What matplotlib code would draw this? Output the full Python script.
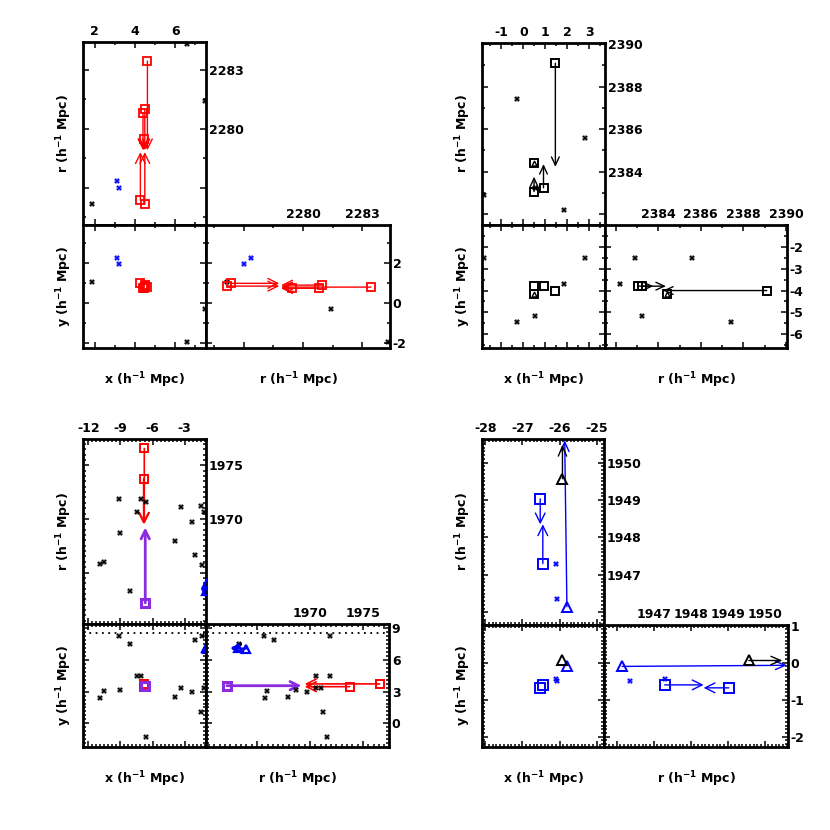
import matplotlib
matplotlib.use('Agg')
import matplotlib.pyplot as plt
from matplotlib.patches import FancyArrowPatch
from matplotlib.ticker import MultipleLocator
import numpy as np

plt.rcParams['font.family'] = ['DejaVu Sans']
plt.rcParams['font.weight'] = 'bold'
plt.rcParams['mathtext.default'] = 'bf'

RED = '#FF0000'
BLUE = '#0000FF'
PURPLE = '#8A2BE2'

# ---------------- Group 1 (top left) ----------------
g1_star_x = [6.57, 1.85, 7.50]
g1_star_r = [2284.30, 2276.15, 2281.40]
g1_star_y = [-1.99, 1.07, -0.29]
g1_bstar_x = [3.12, 3.22]
g1_bstar_r = [2277.35, 2277.00]
g1_bstar_y = [2.25, 1.95]
g1_sq_x = [4.62, 4.49, 4.40, 4.43, 4.27, 4.49]
g1_sq_r = [2283.43, 2280.97, 2280.80, 2279.45, 2276.35, 2276.15]
g1_sq_y = [0.80, 0.90, 0.74, 0.74, 0.99, 0.85]
g1_sq_rend = [2278.90, 2278.90, 2278.90, 2278.90, 2278.80, 2278.80]
g1_xticks = [2, 4, 6]
g1_rticks = [2277, 2280, 2283]
g1_rlabels = ['', '2280', '2283']
g1_yticks = [-2, 0, 2]

# ---------------- Group 2 (top right) ----------------
g2_star_x = [-0.30, 2.80, -1.78, 1.84, 0.53]
g2_star_r = [2387.40, 2385.60, 2382.90, 2382.20, 2383.24]
g2_star_y = [-5.45, -2.50, -2.50, -3.72, -5.15]
g2_sq_x = [1.46, 0.49, 0.92, 0.49]
g2_sq_r = [2389.10, 2384.42, 2383.25, 2383.07]
g2_sq_y = [-4.00, -4.17, -3.80, -3.80]
g2_sq_rend = [2384.23, np.nan, 2384.36, 2383.77]
g2_tri_x = [0.49]
g2_tri_r = [2384.42]
g2_tri_y = [-4.17]
g2_xticks = [-1, 0, 1, 2, 3]
g2_rticks = [2382, 2384, 2386, 2388, 2390]
g2_rlabels = ['', '2384', '2386', '2388', '2390']
g2_yticks = [-6, -5, -4, -3, -2]

# ---------------- Group 3 (bottom left) ----------------
g3_star_x = [-9.17, -7.05, -6.65, -7.45, -9.08, -10.88, -10.57, -8.08,
             -3.34, -2.31, -3.87, -2.00, -1.44, -1.23, -1.38]
g3_star_r = [1971.85, 1971.90, 1971.60, 1970.60, 1968.65, 1965.80, 1965.95, 1963.30,
             1971.07, 1969.70, 1967.96, 1966.60, 1971.20, 1970.60, 1965.70]
g3_star_y = [8.30, 4.45, -1.27, 4.51, 3.12, 2.43, 3.09, 7.48,
             3.32, 3.00, 2.52, 7.90, 1.10, 3.37, 8.30]
g3_red_x = [-6.77, -6.83]
g3_red_r = [1976.57, 1973.74]
g3_red_y = [3.73, 3.47]
g3_red_rend = [1969.50, 1969.50]
g3_pur_x = [-6.68]
g3_pur_r = [1962.17]
g3_pur_y = [3.56]
g3_pur_rend = [1969.20]
g3_tri_x = [-0.98, -0.95]
g3_tri_r = [1963.25, 1964.00]
g3_tri_y = [7.15, 7.08]
g3_tri_rend = [1962.50, 1962.50]
g3_dot_y = 8.55
g3_xticks = [-12, -9, -6, -3]
g3_rticks = [1965, 1970, 1975]
g3_rlabels = ['', '1970', '1975']
g3_yticks = [0, 3, 6, 9]

# ---------------- Group 4 (bottom right) ----------------
g4_bstar_x = [-26.09, -26.07]
g4_bstar_r = [1947.30, 1946.35]
g4_bstar_y = [-0.45, -0.49]
g4_sq_x = [-26.45, -26.52]
g4_sq_r = [1947.30, 1949.03]
g4_sq_y = [-0.60, -0.68]
g4_sq_rend = [1948.35, 1948.35]
g4_btri_x = [-25.80]
g4_btri_r = [1946.15]
g4_btri_y = [-0.10]
g4_btri_xend = [-25.86]
g4_btri_rend = [1950.60]
g4_btri_yend = [-0.07]
g4_ktri_x = [-25.92]
g4_ktri_r = [1949.57]
g4_ktri_y = [0.06]
g4_ktri_rend = [1950.48]
g4_xticks = [-28, -27, -26, -25]
g4_rticks = [1946, 1947, 1948, 1949, 1950]
g4_rlabels = ['', '1947', '1948', '1949', '1950']
g4_yticks = [-2, -1, 0, 1]

W = H = 830
fig = plt.figure(figsize=(8.3, 8.3), dpi=100)


def add_ax(l, t, r, b):
    return fig.add_axes([l / W, 1 - b / H, (r - l) / W, (b - t) / H])


def ftext(x, y, s, rot=0):
    fig.text(x / W, 1 - y / H, s, ha='center', va='center', fontsize=9,
             fontweight='bold', rotation=rot)


def setup(ax, xlim, ylim, xt, xtl, xmn, yt, ytl, ymn, ltop, lright):
    ax.set_xticks(xt, labels=xtl)
    ax.set_yticks(yt, labels=ytl)
    ax.xaxis.set_minor_locator(MultipleLocator(xmn))
    ax.yaxis.set_minor_locator(MultipleLocator(ymn))
    ax.tick_params(which='both', direction='in', top=True, bottom=True,
                   left=True, right=True, labelbottom=False, labelleft=False,
                   labeltop=ltop, labelright=lright, width=1.1, labelsize=9)
    ax.tick_params(which='major', length=4)
    ax.tick_params(which='minor', length=2)
    ax.tick_params(axis='x', pad=3)
    ax.tick_params(axis='y', pad=2)
    for s in ax.spines.values():
        s.set_linewidth(2)
    ax.set_xlim(xlim)
    ax.set_ylim(ylim)


def arrow(ax, p0, p1, col, lw, hl, hw):
    ax.add_patch(FancyArrowPatch(p0, p1,
                                 arrowstyle=f'->,head_length={hl},head_width={hw}',
                                 mutation_scale=10, lw=lw, color=col,
                                 shrinkA=0, shrinkB=0, zorder=2))


def draw_group(box, lims, ticks, stars, markers, arrows, hlines=()):
    xl, xm, xr, yt, ym, yb = box
    xlim, rlim, ylim = lims
    (xt, xtl, xmn), (rt, rtl, rmn), (ytk, ytl, ymn) = ticks
    tl = add_ax(xl, yt, xm, ym)
    bl = add_ax(xl, ym, xm, yb)
    br = add_ax(xm, ym, xr, yb)
    setup(tl, xlim, rlim, xt, xtl, xmn, rt, rtl, rmn, True, True)
    setup(bl, xlim, ylim, xt, xtl, xmn, ytk, ytl, ymn, False, False)
    setup(br, rlim, ylim, rt, rtl, rmn, ytk, ytl, ymn, True, True)
    for (sx, sr, sy, col) in stars:
        kw = dict(ls='none', marker='X', color=col, ms=4.2, mew=0, zorder=3)
        tl.plot(sx, sr, **kw)
        bl.plot(sx, sy, **kw)
        br.plot(sr, sy, **kw)
    for (ax0, ar0, ay0, ax1, ar1, ay1, col, lw, hl, hw) in arrows:
        for i in range(len(ax0)):
            if np.isnan(ar1[i]):
                continue
            arrow(tl, (ax0[i], ar0[i]), (ax1[i], ar1[i]), col, lw, hl, hw)
            arrow(br, (ar0[i], ay0[i]), (ar1[i], ay1[i]), col, lw, hl, hw)
    for (mx, mr, my, mk, col, ms, mew) in markers:
        kw = dict(ls='none', marker=mk, mfc='none', mec=col, ms=ms, mew=mew, zorder=4)
        tl.plot(mx, mr, **kw)
        bl.plot(mx, my, **kw)
        br.plot(mr, my, **kw)
    for h in hlines:
        for a in (bl, br):
            a.axhline(h, color='k', lw=1.3, ls=(0, (1, 2.5)), zorder=1)
    lab = r'(h$^{-1}$ Mpc)'
    ftext((xl + xm) / 2, yb + 32, 'x ' + lab)
    ftext((xm + xr) / 2, yb + 32, 'r ' + lab)
    ftext(xl - 19, (yt + ym) / 2, 'r ' + lab, rot=90)
    ftext(xl - 19, (ym + yb) / 2, 'y ' + lab, rot=90)


def strs(v):
    return [str(t) for t in v]


# Group 1
draw_group((83, 206, 390, 42, 225, 348),
           ([1.42, 7.53], [2275.1, 2284.4], [-2.27, 3.93]),
           ((g1_xticks, strs(g1_xticks), 1),
            (g1_rticks, g1_rlabels, 1.5),
            (g1_yticks, strs(g1_yticks), 1)),
           [(g1_star_x, g1_star_r, g1_star_y, 'k'),
            (g1_bstar_x, g1_bstar_r, g1_bstar_y, BLUE)],
           [(g1_sq_x, g1_sq_r, g1_sq_y, 's', RED, 5.5, 1.3)],
           [(g1_sq_x, g1_sq_r, g1_sq_y, g1_sq_x, g1_sq_rend, g1_sq_y, RED, 1.0, 0.7, 0.35)])

# Group 2
draw_group((482, 605, 787, 43, 225, 348),
           ([-1.88, 3.72], [2381.5, 2390.05], [-6.63, -1.0]),
           ((g2_xticks, strs(g2_xticks), 0.5),
            (g2_rticks, g2_rlabels, 1),
            (g2_yticks, strs(g2_yticks), 0.5)),
           [(g2_star_x, g2_star_r, g2_star_y, 'k')],
           [(g2_sq_x, g2_sq_r, g2_sq_y, 's', 'k', 6.0, 1.4),
            (g2_tri_x, g2_tri_r, g2_tri_y, '^', 'k', 3.5, 1.0)],
           [(g2_sq_x, g2_sq_r, g2_sq_y, g2_sq_x, g2_sq_rend, g2_sq_y, 'k', 1.0, 0.6, 0.28)])

# Group 3
draw_group((83, 206, 389, 439, 624, 747),
           ([-12.5, -1.0], [1960.2, 1977.45], [-2.24, 9.4]),
           ((g3_xticks, strs(g3_xticks), 0.375),
            (g3_rticks, g3_rlabels, 0.5),
            (g3_yticks, strs(g3_yticks), 0.375)),
           [(g3_star_x, g3_star_r, g3_star_y, 'k')],
           [(g3_red_x, g3_red_r, g3_red_y, 's', RED, 6.0, 1.4),
            (g3_pur_x, g3_pur_r, g3_pur_y, 's', PURPLE, 6.0, 2.2),
            (g3_tri_x, g3_tri_r, g3_tri_y, '^', BLUE, 6.0, 1.6)],
           [(g3_red_x, g3_red_r, g3_red_y, g3_red_x, g3_red_rend, g3_red_y, RED, 1.2, 0.7, 0.35),
            (g3_pur_x, g3_pur_r, g3_pur_y, g3_pur_x, g3_pur_rend, g3_pur_y, PURPLE, 2.0, 0.6, 0.3),
            (g3_tri_x, g3_tri_r, g3_tri_y, g3_tri_x, g3_tri_rend, g3_tri_y, BLUE, 1.5, 0.6, 0.3)],
           hlines=[g3_dot_y])

# Group 4
draw_group((482, 604, 788, 439, 625, 747),
           ([-28.09, -24.8], [1945.66, 1950.63], [-2.28, 1.02]),
           ((g4_xticks, strs(g4_xticks), 0.1),
            (g4_rticks, g4_rlabels, 0.1),
            (g4_yticks, strs(g4_yticks), 0.1)),
           [(g4_bstar_x, g4_bstar_r, g4_bstar_y, BLUE)],
           [(g4_sq_x, g4_sq_r, g4_sq_y, 's', BLUE, 6.5, 1.4),
            (g4_btri_x, g4_btri_r, g4_btri_y, '^', BLUE, 7.0, 1.4),
            (g4_ktri_x, g4_ktri_r, g4_ktri_y, '^', 'k', 7.0, 1.4)],
           [(g4_sq_x, g4_sq_r, g4_sq_y, g4_sq_x, g4_sq_rend, g4_sq_y, BLUE, 1.0, 0.7, 0.35),
            (g4_btri_x, g4_btri_r, g4_btri_y, g4_btri_xend, g4_btri_rend, g4_btri_yend, BLUE, 1.0, 0.7, 0.3),
            (g4_ktri_x, g4_ktri_r, g4_ktri_y, g4_ktri_x, g4_ktri_rend, g4_ktri_y, 'k', 1.0, 0.7, 0.3)])

fig.savefig('out.png', dpi=100)
